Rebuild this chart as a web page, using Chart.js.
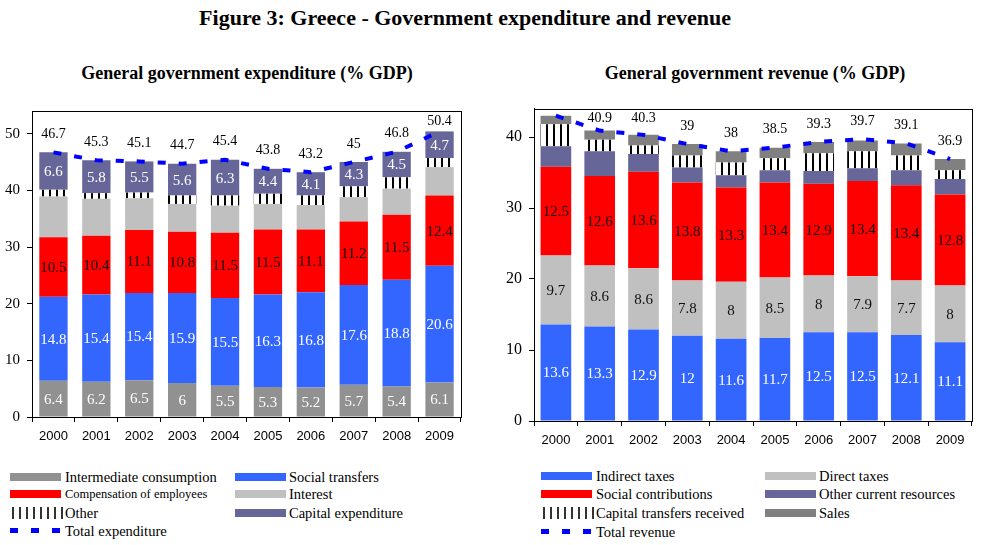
<!DOCTYPE html>
<html><head><meta charset="utf-8">
<script src="https://cdn.jsdelivr.net/npm/chart.js@4/dist/chart.umd.min.js"></script>
<style>
body{margin:0;background:#fff;width:984px;height:545px;position:relative;overflow:hidden;font-family:"Liberation Serif","Times New Roman",serif;}
.abs{position:absolute;}
#title{left:0;width:930px;top:5px;text-align:center;font-weight:bold;font-size:22px;}
.sub{font-weight:bold;font-size:18px;text-align:center;top:63px;}
.lg{position:absolute;font-size:14.5px;line-height:16px;white-space:nowrap;}
.sw{position:absolute;}
</style></head><body>
<div id="title" class="abs">Figure 3: Greece - Government expenditure and revenue</div>
<div class="abs sub" style="left:47px;width:400px;">General government expenditure (% GDP)</div>
<div class="abs sub" style="left:555px;width:400px;">General government revenue (% GDP)</div>
<canvas id="c1" class="abs" style="left:0;top:95px;" width="475" height="355"></canvas>
<canvas id="c2" class="abs" style="left:490px;top:92px;" width="494" height="358"></canvas>
<div id="legends"></div>
<script>
// ---- data ----
const years = ['2000','2001','2002','2003','2004','2005','2006','2007','2008','2009'];
// Expenditure
const intermediateConsumption = [6.4,6.2,6.5,6.0,5.5,5.3,5.2,5.7,5.4,6.1];
const socialTransfers        = [14.8,15.4,15.4,15.9,15.5,16.3,16.8,17.6,18.8,20.6];
const compensationEmployees  = [10.5,10.4,11.1,10.8,11.5,11.5,11.1,11.2,11.5,12.4];
const interest               = [7.2,6.5,5.6,4.9,4.8,4.5,4.3,4.3,4.6,5.0];
const otherExpenditure       = [1.2,1.0,1.0,1.5,1.8,1.8,1.7,1.9,2.0,1.6];
const capitalExpenditure     = [6.6,5.8,5.5,5.6,6.3,4.4,4.1,4.3,4.5,4.7];
const totalExpenditure       = [46.7,45.3,45.1,44.7,45.4,43.8,43.2,45.0,46.8,50.4];
// Revenue
const indirectTaxes          = [13.6,13.3,12.9,12.0,11.6,11.7,12.5,12.5,12.1,11.1];
const directTaxes            = [9.7,8.6,8.6,7.8,8.0,8.5,8.0,7.9,7.7,8.0];
const socialContributions    = [12.5,12.6,13.6,13.8,13.3,13.4,12.9,13.4,13.4,12.8];
const otherCurrentResources  = [2.9,3.5,2.5,2.1,1.7,1.7,1.8,1.8,2.1,2.2];
const capitalTransfers       = [3.1,1.6,1.2,1.7,1.8,1.7,2.5,2.4,2.1,1.2];
const sales                  = [1.2,1.3,1.5,1.6,1.6,1.5,1.6,1.5,1.7,1.6];
const totalRevenue           = [43.0,40.9,40.3,39.0,38.0,38.5,39.3,39.7,39.1,36.9];
const yTicksExp = [0,10,20,30,40,50];
const yTicksRev = [0,10,20,30,40];

// ---- styles ----
const GRAY='#919191', BLUE='#3366FF', RED='#FF0000', LGRAY='#C0C0C0', PURPLE='#666699', DGRAY='#808080', LINE='#0000FF';
function stripes(){
  const c=document.createElement('canvas'); c.width=7; c.height=10;
  const x=c.getContext('2d'); x.fillStyle='#fff'; x.fillRect(0,0,7,10);
  x.fillStyle='#000'; x.fillRect(0,0,2,10);
  return x.createPattern(c,'repeat');
}
const STR = stripes();
const SERIF='"Liberation Serif","Times New Roman",serif';

const labelPlugin = {
  id:'labels',
  afterDatasetsDraw(chart){
    const ctx=chart.ctx, ca=chart.chartArea;
    ctx.save();
    ctx.strokeStyle='#000'; ctx.lineWidth=1;
    ctx.strokeRect(Math.round(ca.left)+0.5, Math.round(ca.top)+0.5, Math.round(ca.right-ca.left), Math.round(ca.bottom-ca.top));
    ctx.textAlign='center'; ctx.textBaseline='middle';
    chart.data.datasets.forEach((ds,i)=>{
      const meta=chart.getDatasetMeta(i);
      if(ds.type==='line'){
        ctx.font='14px '+SERIF; ctx.fillStyle='#000';
        meta.data.forEach((p,j)=>{
          let y=p.y-18;
          if(y < ca.top) return;
          y=Math.max(y, ca.top+10);
          ctx.fillText(String(ds.data[j]), p.x, y);
        });
      } else if(ds.labelColor){
        ctx.font='15px '+SERIF; ctx.fillStyle=ds.labelColor;
        meta.data.forEach((b,j)=>{
          ctx.fillText(String(ds.data[j]), b.x, (b.y+b.base)/2+1);
        });
      }
    });
    ctx.restore();
  }
};

function makeChart(id, bars, total, ticks, max, opt){
  const datasets = bars.map(b=>({type:'bar',label:b[0],data:b[1],backgroundColor:b[2],labelColor:b[3],
    barPercentage:opt.barPct,categoryPercentage:1,stack:'s',order:1,borderWidth:0}));
  datasets.push({type:'line',label:total[0],data:total[1],borderColor:LINE,borderWidth:4,borderDash:[8,13],
    pointRadius:0,fill:false,stack:'line',order:0,tension:0});
  return new Chart(document.getElementById(id),{
    data:{labels:years,datasets},
    options:{
      responsive:false,animation:false,
      layout:{padding:{top:opt.padTop,right:opt.padRight,left:0,bottom:0}},
      plugins:{legend:{display:false},tooltip:{enabled:false}},
      scales:{
        x:{stacked:true,offset:true,
          grid:{offset:true,drawOnChartArea:false,tickLength:5,color:'#000'},
          border:{color:'#000'},
          ticks:{color:'#000',font:{family:'"Liberation Sans",Arial,sans-serif',size:13},padding:7,maxRotation:0},
          afterFit(s){s.height=opt.xh;}},
        y:{stacked:true,min:0,max:max,
          afterBuildTicks(s){s.ticks=ticks.map(v=>({value:v}));},
          grid:{drawOnChartArea:false,tickLength:5,color:'#000'},
          border:{color:'#000'},
          ticks:{color:'#000',font:{family:SERIF,size:opt.yfs},padding:7},
          afterFit(s){s.width=opt.yw;}}
      }
    },
    plugins:[labelPlugin]
  });
}

makeChart('c1',[
  ['Intermediate consumption',intermediateConsumption,GRAY,'#fff'],
  ['Social transfers',socialTransfers,BLUE,'#fff'],
  ['Compensation of employees',compensationEmployees,RED,'#111'],
  ['Interest',interest,LGRAY,null],
  ['Other',otherExpenditure,STR,null],
  ['Capital expenditure',capitalExpenditure,PURPLE,'#fff']
],['Total expenditure',totalExpenditure],yTicksExp,54,{barPct:0.66,padTop:4,padRight:14,xh:33,yw:32,yfs:15});

makeChart('c2',[
  ['Indirect taxes',indirectTaxes,BLUE,'#fff'],
  ['Direct taxes',directTaxes,LGRAY,'#111'],
  ['Social contributions',socialContributions,RED,'#111'],
  ['Other current resources',otherCurrentResources,PURPLE,null],
  ['Capital transfers received',capitalTransfers,STR,null],
  ['Sales',sales,DGRAY,null]
],['Total revenue',totalRevenue],yTicksRev,44,{barPct:0.70,padTop:5,padRight:12,xh:29,yw:44,yfs:16});

// ---- legends ----
const legendItems = [
  // [label, kind, color, swatchX, textX, yCenter, fontSize]
  ['Intermediate consumption','box',GRAY,10,65,477,14.5],
  ['Compensation of employees','box',RED,10,65,494,12.5],
  ['Other','stripe',null,10,65,513,14.5],
  ['Total expenditure','dash',LINE,10,65,531,14.5],
  ['Social transfers','box',BLUE,235,289,477,14.5],
  ['Interest','box',LGRAY,235,289,494,14.5],
  ['Capital expenditure','box',PURPLE,235,289,513,14.5],
  ['Indirect taxes','box',BLUE,541,596,476,14.5],
  ['Social contributions','box',RED,541,596,494,14.5],
  ['Capital transfers received','stripe',null,541,596,513,14.5],
  ['Total revenue','dash',LINE,541,596,532,14.5],
  ['Direct taxes','box',LGRAY,765,819,476,14.5],
  ['Other current resources','box',PURPLE,765,819,494,14.5],
  ['Sales','box',DGRAY,765,819,513,14.5]
];
const L=document.getElementById('legends');
legendItems.forEach(it=>{
  const [lab,kind,col,sx,tx,yc,fs]=it;
  const sw=document.createElement('div'); sw.className='sw';
  if(kind==='box'){
    Object.assign(sw.style,{left:sx+'px',top:(yc-4)+'px',width:'51px',height:'8px',background:col});
  } else if(kind==='stripe'){
    Object.assign(sw.style,{left:(sx+2)+'px',top:(yc-6)+'px',width:'51px',height:'12px',
      background:'repeating-linear-gradient(90deg,#333 0 2px,transparent 2px 7px)'});
  } else {
    Object.assign(sw.style,{left:sx+'px',top:(yc-3)+'px',width:'52px',height:'5px',
      background:'repeating-linear-gradient(90deg,'+col+' 0 8px,transparent 8px 21px)'});
  }
  L.appendChild(sw);
  const t=document.createElement('div'); t.className='lg'; t.textContent=lab;
  Object.assign(t.style,{left:tx+'px',top:(yc-8)+'px',fontSize:fs+'px'});
  L.appendChild(t);
});
</script>
</body></html>
